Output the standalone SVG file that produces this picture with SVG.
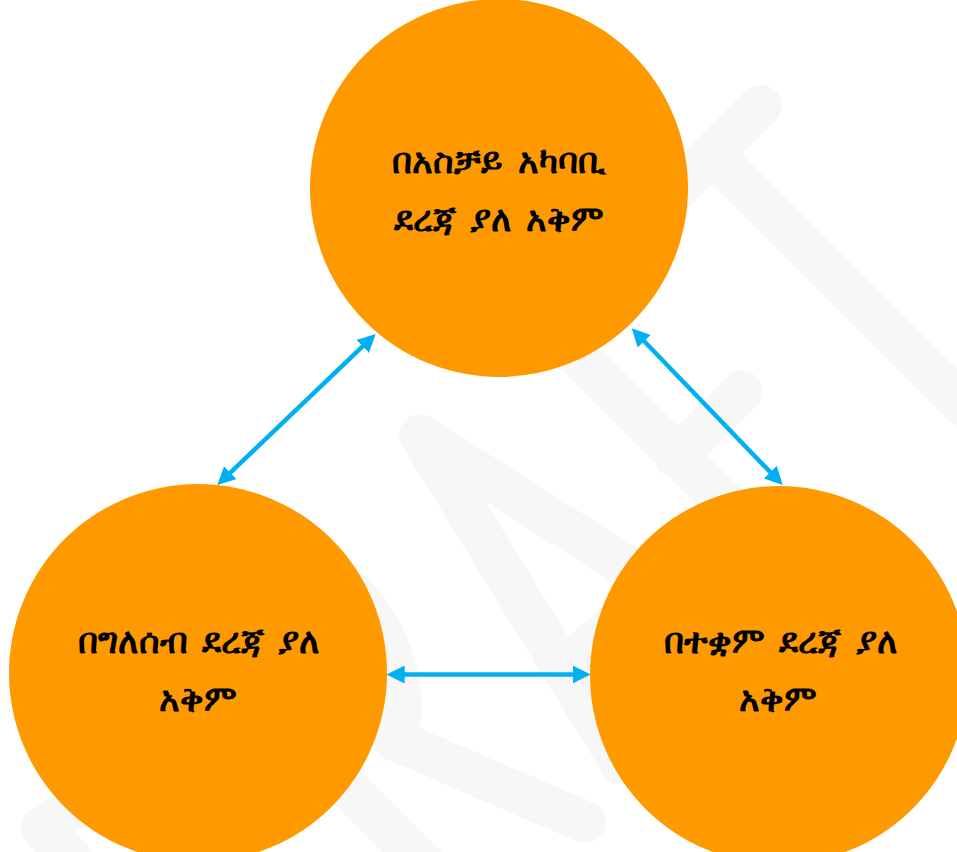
<svg xmlns="http://www.w3.org/2000/svg" width="957" height="852" viewBox="0 0 957 852">
  <style>
    .wm { fill: none; stroke: #f7f7f7; stroke-width: 42; stroke-linecap: round; stroke-linejoin: round; }
    .node circle { fill: #ff9900; }
    .label { font-family: "Noto Sans", "DejaVu Sans", sans-serif; font-size: 35px; font-weight: bold; word-spacing: 5px; fill: #000000; text-anchor: middle; }
    .link { stroke: #00b0f0; stroke-width: 4.5; fill: none; marker-start: url(#head); marker-end: url(#head); }
  </style>
  <defs>
    <marker id="head" markerUnits="userSpaceOnUse" markerWidth="18" markerHeight="18" viewBox="0 0 18 18" refX="1" refY="9" orient="auto-start-reverse">
      <path d="M0,0 L18,9 L0,18 Z" fill="#00b0f0"/>
    </marker>
  </defs>

  <rect width="957" height="852" fill="#ffffff"/>

  <!-- faint background lettering -->
  <g id="watermark" class="wm">
    <path d="M760.75,105.75 L633,233"/>
    <path d="M712.5,154 L1000,441.5"/>
    <path d="M741.5,391.5 L676,457"/>
    <path d="M520,298 L760,538"/>
    <path d="M673,596 L420,435 L621,763"/>
    <path d="M575,660 L640,600"/>
    <path d="M340,580 Q405,640 400,720"/>
    <path d="M395,740 L585,822"/>
    <path d="M150,760 L42,828 L90,880"/>
    <path d="M350,790 L440,880"/>
  </g>

  <!-- connectors -->
  <g id="connectors">
    <line class="link" x1="363.4" y1="345.7" x2="229.6" y2="473.3"/>
    <line class="link" x1="643.5" y1="340.5" x2="770.9" y2="472.8"/>
    <line class="link" x1="403.7" y1="674.5" x2="573.7" y2="674.5"/>
  </g>

  <!-- nodes -->
  <g id="node-top" class="node">
    <circle cx="499" cy="188" r="189"/>
    <text class="label" x="499" y="173">በአስቻይ አካባቢ</text>
    <text class="label" x="499" y="231">ደረጃ ያለ አቅም</text>
  </g>
  <g id="node-left" class="node">
    <circle cx="198" cy="673" r="189"/>
    <text class="label" x="199" y="653">በግለሰብ ደረጃ ያለ</text>
    <text class="label" x="198" y="711">አቅም</text>
  </g>
  <g id="node-right" class="node">
    <circle cx="779" cy="675" r="189"/>
    <text class="label" x="781" y="653">በተቋም ደረጃ ያለ</text>
    <text class="label" x="778" y="711">አቅም</text>
  </g>
</svg>
